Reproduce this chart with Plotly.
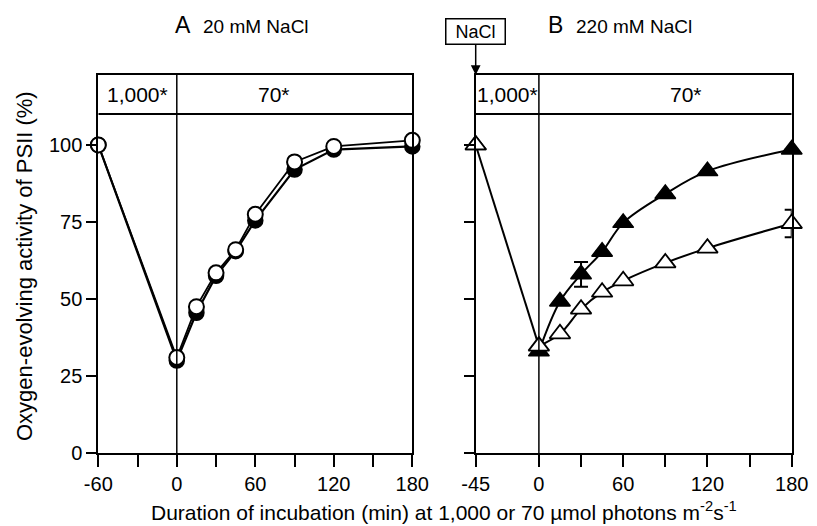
import plotly.graph_objects as go

# ---------------- data ----------------
time_A = [-60, 0, 15, 30, 45, 60, 90, 120, 180]
A_filled = [100, 30, 45.5, 57.5, 65.5, 75.5, 92, 98.5, 99.5]
A_open = [100, 31, 47.5, 58.5, 66, 77.5, 94.5, 99.5, 101.5]

time_B = [-45, 0, 15, 30, 45, 60, 90, 120, 180]
B_filled = [100, 33, 49.2, 58, 65.3, 74.7, 84.1, 91.5, 98.5]
B_filled_err = [None, None, None, 4, None, None, None, None, None]
B_open = [100, 34.7, 38.7, 46.7, 52.2, 55.9, 61.7, 66.5, 74.5]
B_open_err = [None, None, None, None, None, None, None, None, 4.5]

xticks_A = [-60, 0, 60, 120, 180]
xticktext_A = ["-60", "0", "60", "120", "180"]
xminor_A = [-30, 30, 90, 150]
xticks_B = [-45, 0, 60, 120, 180]
xticktext_B = ["-45", "0", "60", "120", "180"]
xminor_B = [30, 90, 150]
yticks = [0, 25, 50, 75, 100]
yticktext = ["0", "25", "50", "75", "100"]

header_A = ["1,000*", "70*"]
header_B = ["1,000*", "70*"]

# ---------------- layout helpers ----------------
W, H = 817, 526
MT, MB = 75, 73
PH = H - MT - MB
YTOP = 122.7
HEADER_Y = 110
FONT = "Liberation Sans, Arial, sans-serif"


def px_x(px):
    return px / W


def px_y(py):
    return (H - MB - py) / PH


fig = go.Figure()

# Panel A
fig.add_trace(go.Scatter(
    x=time_A, y=A_filled, mode="lines+markers", xaxis="x", yaxis="y",
    line=dict(color="black", width=2.2),
    marker=dict(symbol="circle", size=15, color="black", line=dict(color="black", width=1.5)),
    cliponaxis=False, showlegend=False))
fig.add_trace(go.Scatter(
    x=time_A, y=A_open, mode="lines+markers", xaxis="x", yaxis="y",
    line=dict(color="black", width=1.8),
    marker=dict(symbol="circle", size=15, color="white", line=dict(color="black", width=2)),
    cliponaxis=False, showlegend=False))

# Panel B lines
fig.add_trace(go.Scatter(
    x=time_B[:2], y=B_open[:2], mode="lines", xaxis="x2", yaxis="y2",
    line=dict(color="black", width=2), showlegend=False, cliponaxis=False))
fig.add_trace(go.Scatter(
    x=time_B[1:], y=B_filled[1:], mode="lines", xaxis="x2", yaxis="y2",
    line=dict(color="black", width=2, shape="spline", smoothing=1.0), showlegend=False, cliponaxis=False))
fig.add_trace(go.Scatter(
    x=time_B[1:], y=B_open[1:], mode="lines", xaxis="x2", yaxis="y2",
    line=dict(color="black", width=2, shape="spline", smoothing=1.0), showlegend=False, cliponaxis=False))
# Panel B markers
fig.add_trace(go.Scatter(
    x=time_B, y=B_filled, mode="markers", xaxis="x2", yaxis="y2",
    marker=dict(symbol="triangle-up", size=18, color="black", line=dict(color="black", width=1.5)),
    error_y=dict(type="data", array=B_filled_err, visible=True, color="black", thickness=2, width=7),
    showlegend=False, cliponaxis=False))
fig.add_trace(go.Scatter(
    x=time_B, y=B_open, mode="markers", xaxis="x2", yaxis="y2",
    marker=dict(symbol="triangle-up", size=18, color="white", line=dict(color="black", width=1.8)),
    error_y=dict(type="data", array=B_open_err, visible=True, color="black", thickness=2, width=7),
    showlegend=False, cliponaxis=False))

axis_common = dict(showline=True, mirror=True, linewidth=2, linecolor="black",
                   showgrid=False, zeroline=False, ticks="outside", tickwidth=2,
                   tickcolor="black", automargin=False,
                   tickfont=dict(family=FONT, size=20, color="black"))

fig.update_layout(
    template="none",
    width=W, height=H,
    margin=dict(l=0, r=0, t=MT, b=MB, pad=0),
    paper_bgcolor="white", plot_bgcolor="white",
    font=dict(family=FONT, color="black"),
    xaxis=dict(domain=[98.3 / W, 412.3 / W], range=[-60, 180], anchor="y",
               tickmode="array", tickvals=xticks_A, ticktext=xticktext_A, ticklen=12,
               minor=dict(tickvals=xminor_A, ticks="outside", ticklen=12, tickwidth=2,
                          tickcolor="black", showgrid=False),
               **axis_common),
    yaxis=dict(domain=[0, 1], range=[0, YTOP], anchor="x",
               tickmode="array", tickvals=yticks, ticktext=yticktext, ticklen=10, **axis_common),
    xaxis2=dict(domain=[475.7 / W, 791.7 / W], range=[-45, 180], anchor="y2",
                tickmode="array", tickvals=xticks_B, ticktext=xticktext_B, ticklen=12,
                minor=dict(tickvals=xminor_B, ticks="outside", ticklen=12, tickwidth=2,
                           tickcolor="black", showgrid=False),
                **axis_common),
    yaxis2=dict(domain=[0, 1], range=[0, YTOP], anchor="x2",
                tickmode="array", tickvals=yticks, ticklen=10, showticklabels=False,
                **{k: v for k, v in axis_common.items() if k != "tickfont"}),
)

shapes = []
for xr, yr, xmin in (("x", "y", -60), ("x2", "y2", -45)):
    shapes.append(dict(type="line", xref=xr, yref=yr, x0=0, x1=0, y0=0, y1=YTOP,
                       line=dict(color="black", width=1.5)))
    shapes.append(dict(type="line", xref=xr, yref=yr, x0=xmin, x1=180, y0=HEADER_Y, y1=HEADER_Y,
                       line=dict(color="black", width=2)))
fig.update_layout(shapes=shapes)

hy = (HEADER_Y + YTOP) / 2
ann = []
ann.append(dict(x=-30, y=hy, xref="x", yref="y", text=header_A[0], showarrow=False,
                font=dict(size=21, family=FONT)))
ann.append(dict(x=74.5, y=hy, xref="x", yref="y", text=header_A[1], showarrow=False,
                font=dict(size=21, family=FONT)))
ann.append(dict(x=-22.5, y=hy, xref="x2", yref="y2", text=header_B[0], showarrow=False,
                font=dict(size=21, family=FONT)))
ann.append(dict(x=105, y=hy, xref="x2", yref="y2", text=header_B[1], showarrow=False,
                font=dict(size=21, family=FONT)))

# Titles
ann.append(dict(x=px_x(173), y=px_y(25), xref="paper", yref="paper", xanchor="left", yanchor="middle",
                text="A", showarrow=False, font=dict(size=23, family=FONT)))
ann.append(dict(x=px_x(201), y=px_y(26.5), xref="paper", yref="paper", xanchor="left", yanchor="middle",
                text="20 mM NaCl", showarrow=False, font=dict(size=19, family=FONT)))
ann.append(dict(x=px_x(546), y=px_y(25), xref="paper", yref="paper", xanchor="left", yanchor="middle",
                text="B", showarrow=False, font=dict(size=23, family=FONT)))
ann.append(dict(x=px_x(574), y=px_y(26.5), xref="paper", yref="paper", xanchor="left", yanchor="middle",
                text="220 mM NaCl", showarrow=False, font=dict(size=19, family=FONT)))

# NaCl box with arrow
ann.append(dict(x=-45, y=YTOP, xref="x2", yref="y2", text="NaCl", showarrow=True,
                ax=0, ay=-43.5, axref="pixel", ayref="pixel",
                arrowhead=2, arrowsize=1.3, arrowwidth=1.5, arrowcolor="black", standoff=0,
                bordercolor="black", borderwidth=1.5, borderpad=3, bgcolor="white",
                width=52, height=18, font=dict(size=18, family=FONT)))

# Axis titles
ann.append(dict(x=px_x(24), y=px_y(266), xref="paper", yref="paper", textangle=-90,
                xanchor="center", yanchor="middle",
                text="Oxygen-evolving activity of PSII (%)", showarrow=False,
                font=dict(size=22, family=FONT)))
ann.append(dict(x=px_x(444.5), y=px_y(511.5), xref="paper", yref="paper",
                xanchor="center", yanchor="middle",
                text="Duration of incubation (min) at 1,000 or 70 µmol photons m<sup>-2</sup>s<sup>-1</sup>",
                showarrow=False, font=dict(size=21, family=FONT)))

fig.update_layout(annotations=ann)

fig.write_html("out.html", config={"displayModeBar": False},
               post_script="document.body.style.margin='0px';")
